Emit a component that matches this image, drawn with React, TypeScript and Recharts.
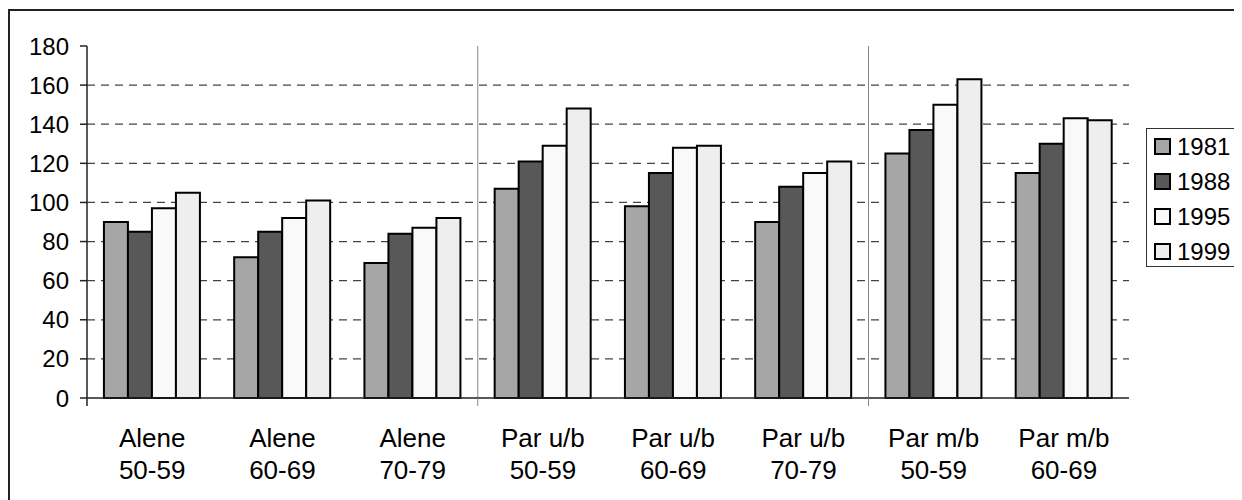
import React from "react";
import { BarChart, Bar, XAxis, YAxis, CartesianGrid, ReferenceLine } from "recharts";

// Household groups and age bands shown on the category axis
const groupLabels = ["Alene", "Alene", "Alene", "Par u/b", "Par u/b", "Par u/b", "Par m/b", "Par m/b"];
const ageLabels = ["50-59", "60-69", "70-79", "50-59", "60-69", "70-79", "50-59", "60-69"];

// Values per survey year
const values1981 = [90, 72, 69, 107, 98, 90, 125, 115];
const values1988 = [85, 85, 84, 121, 115, 108, 137, 130];
const values1995 = [97, 92, 87, 129, 128, 115, 150, 143];
const values1999 = [105, 101, 92, 148, 129, 121, 163, 142];

const yTicks = [0, 20, 40, 60, 80, 100, 120, 140, 160, 180];

const seriesDefs = [
  { key: "y1981", name: "1981", fill: "#a6a6a6", values: values1981 },
  { key: "y1988", name: "1988", fill: "#585858", values: values1988 },
  { key: "y1995", name: "1995", fill: "#f9f9f9", values: values1995 },
  { key: "y1999", name: "1999", fill: "#eeeeee", values: values1999 },
];

const data = groupLabels.map((g, i) => {
  const row: Record<string, string | number> = { cat: `${g} ${ageLabels[i]}` };
  seriesDefs.forEach((s) => {
    row[s.key] = s.values[i];
  });
  return row;
});

const categoryKeys = data.map((d) => d.cat as string);

const FONT = "'Liberation Sans', Arial, Helvetica, sans-serif";

const CategoryTick = (props: any) => {
  const { x, y, index, payload } = props;
  const half = payload && typeof payload.offset === "number" ? payload.offset : 0;
  const boundary = index % 3 === 0;
  return (
    <g>
      {boundary && (
        <line
          x1={x - half}
          x2={x - half}
          y1={y}
          y2={y + 8}
          stroke={index === 0 ? "#222" : "#888"}
          strokeWidth={index === 0 ? 1.5 : 1}
        />
      )}
      <text x={x} y={y} textAnchor="middle" fill="#000" fontSize={26} fontFamily={FONT}>
        <tspan x={x} dy={49}>{groupLabels[index]}</tspan>
        <tspan x={x} dy={32}>{ageLabels[index]}</tspan>
      </text>
    </g>
  );
};

export default function App() {
  return (
    <div style={{ position: "relative", width: 1234, height: 492, overflow: "hidden", fontFamily: FONT }}>
      <div
        style={{
          position: "absolute",
          left: 0,
          top: 1,
          width: 1300,
          height: 600,
          border: "2px solid #222",
          boxSizing: "border-box",
        }}
      />
      <div style={{ position: "absolute", left: 0, top: 0 }}>
        <BarChart
          width={1234}
          height={492}
          data={data}
          margin={{ top: 38, right: 113, left: 0, bottom: 0 }}
          barCategoryGap="13%"
          barGap={0}
        >
          <CartesianGrid
            horizontal={true}
            vertical={false}
            stroke="#444"
            strokeWidth={1.3}
            strokeDasharray="8 6"
            horizontalValues={yTicks.filter((v) => v > 0 && v < 180)}
          />
          <ReferenceLine x={categoryKeys[3]} position="start" stroke="#888" strokeWidth={1} />
          <ReferenceLine x={categoryKeys[6]} position="start" stroke="#888" strokeWidth={1} />
          <XAxis
            dataKey="cat"
            height={102}
            interval={0}
            tickLine={false}
            tickSize={0}
            tickMargin={0}
            axisLine={{ stroke: "#222", strokeWidth: 1.5 }}
            tick={<CategoryTick />}
          />
          <XAxis
            xAxisId="top"
            dataKey="cat"
            orientation="top"
            height={0}
            tick={false}
            tickLine={false}
            axisLine={{ stroke: "#999", strokeWidth: 1.5 }}
          />
          <YAxis
            width={79}
            domain={[0, 180]}
            ticks={yTicks}
            interval={0}
            tickSize={7}
            tickMargin={11}
            tickLine={{ stroke: "#222", strokeWidth: 1.5 }}
            axisLine={{ stroke: "#222", strokeWidth: 1.5 }}
            tick={{ fill: "#000", fontSize: 24, fontFamily: FONT }}
          />
          <YAxis
            yAxisId="right"
            orientation="right"
            width={0}
            domain={[0, 180]}
            tick={false}
            tickLine={false}
            axisLine={{ stroke: "#999", strokeWidth: 1.5 }}
          />
          {seriesDefs.map((s) => (
            <Bar
              key={s.key}
              dataKey={s.key}
              name={s.name}
              fill={s.fill}
              stroke="#000"
              strokeWidth={2}
              isAnimationActive={false}
            />
          ))}
        </BarChart>
      </div>
      <div
        style={{
          position: "absolute",
          left: 1138,
          top: 120,
          width: 90,
          height: 139,
          border: "1px solid #333",
          boxSizing: "border-box",
          background: "#fff",
        }}
      >
        {seriesDefs.map((s) => (
          <div
            key={s.key}
            style={{ display: "flex", alignItems: "center", height: 35, paddingLeft: 7 }}
          >
            <span
              style={{
                display: "inline-block",
                width: 13,
                height: 13,
                background: s.fill,
                border: "2px solid #000",
                marginRight: 6,
              }}
            />
            <span style={{ fontSize: 24, color: "#000", lineHeight: "35px" }}>{s.name}</span>
          </div>
        ))}
      </div>
    </div>
  );
}
